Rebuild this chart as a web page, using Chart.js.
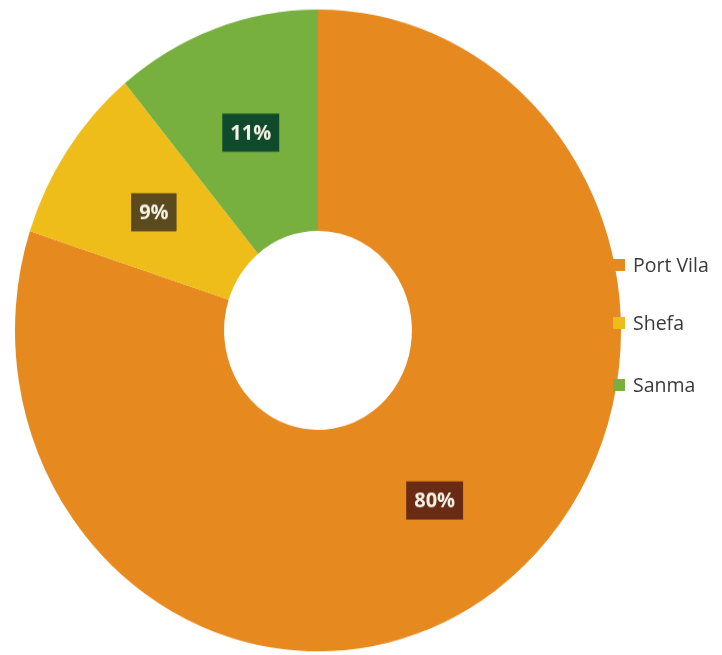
<!DOCTYPE html>
<html>
<head>
<meta charset="utf-8">
<script src="https://cdn.jsdelivr.net/npm/chart.js@4/dist/chart.umd.min.js"></script>
<style>
  body { margin: 0; background: #fff; width: 722px; height: 655px; overflow: hidden; position: relative; }
  #wrap { position: absolute; left: 0; top: 0; width: 636px; height: 625px; transform: scaleY(1.059); transform-origin: 0 0; }
  #legend { position: absolute; left: 613px; top: 0; font-family: "Open Sans", sans-serif; font-size: 19.5px; color: #3a3a3a; }
  .item { position: absolute; left: 0; white-space: nowrap; display: flex; align-items: center; }
  .box { width: 12px; height: 12px; margin-right: 8px; }
</style>
</head>
<body>
<div id="wrap"><canvas id="donut" width="636" height="625"></canvas></div>
<div id="legend"></div>
<script>
// valeurs
let regions = ['Port Vila', 'Shefa', 'Sanma']
let parts = [80, 9, 11]
let couleurs = ['#e6891f', '#efbd19', '#78b03f']
let fondEtiquettes = ['#6a2b14', '#5b4a1d', '#0f4a2d']

// legende html (elle chevauche le bord du graphique)
let legendTops = [251, 309, 371]
let legend = document.getElementById('legend')
regions.forEach(function (nom, i) {
    let item = document.createElement('div')
    item.className = 'item'
    item.style.top = legendTops[i] + 'px'
    item.innerHTML = '<span class="box" style="background:' + couleurs[i] + '"></span>' + nom
    legend.appendChild(item)
})

// etiquettes avec fond sombre
const etiquettes = {
    id: 'etiquettes',
    afterDatasetsDraw(chart) {
        let ctx = chart.ctx
        let meta = chart.getDatasetMeta(0)
        ctx.save()
        ctx.font = 'bold 20px "Open Sans", sans-serif'
        ctx.textAlign = 'center'
        ctx.textBaseline = 'middle'
        meta.data.forEach(function (arc, i) {
            let pos = arc.tooltipPosition()
            let txt = parts[i] + '%'
            let w = ctx.measureText(txt).width + 16
            let h = 36
            ctx.fillStyle = fondEtiquettes[i]
            ctx.fillRect(pos.x - w / 2, pos.y - h / 2, w, h)
            ctx.fillStyle = '#f4f1e6'
            ctx.fillText(txt, pos.x, pos.y + 1)
        })
        ctx.restore()
    }
}

new Chart(document.getElementById('donut'), {
    type: 'doughnut',
    data: {
        labels: regions,
        datasets: [{
            data: parts,
            backgroundColor: couleurs,
            borderWidth: 0
        }]
    },
    options: {
        responsive: false,
        animation: false,
        cutout: '31%',
        layout: { padding: { left: 15, right: 15, top: 9, bottom: 10 } },
        plugins: {
            legend: { display: false },
            tooltip: { enabled: false }
        }
    },
    plugins: [etiquettes]
});
</script>
</body>
</html>
